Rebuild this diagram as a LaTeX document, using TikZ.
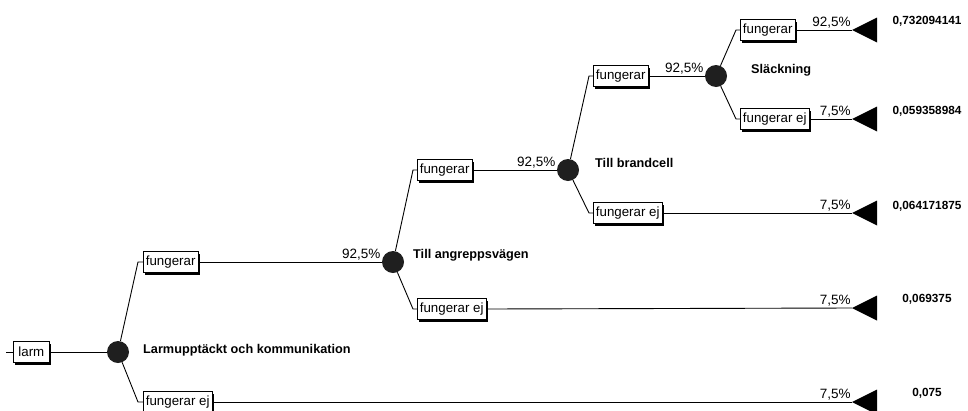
\documentclass[tikz,border=0pt]{standalone}
\usepackage{fontspec}
\setmainfont{Liberation Sans}
\usetikzlibrary{shadows}
\begin{document}
\begin{tikzpicture}[x=1pt,y=-1pt,
  conn/.style={line width=0.9pt},
  box/.style={draw, fill=white, line width=0.8pt, inner xsep=2.5pt, inner ysep=0pt,
    minimum height=21pt, font=\fontsize{13.3}{14}\selectfont, anchor=west,
    drop shadow={shadow xshift=2pt, shadow yshift=-2.6pt, fill=black, opacity=1}},
  chance/.style={circle, fill=black!88, minimum size=22pt, inner sep=0pt},
  pct/.style={font=\fontsize{13.5}{14}\selectfont, inner sep=1pt, anchor=south east},
  stage/.style={font=\bfseries\fontsize{12.7}{14}\selectfont, anchor=west, inner sep=0pt},
  val/.style={font=\bfseries\fontsize{11.8}{13}\selectfont, inner sep=0pt},
  term/.style={fill=black}
]
\useasboundingbox (0,0) rectangle (968,410);

% nodes
\coordinate (start) at (6,352);
\node[box, minimum width=36pt] (larm) at (13,352) {larm};
\node[chance] (c1) at (118,352) {};
\node[box] (b1u) at (143,262) {fungerar};
\node[box] (b1d) at (143,402) {fungerar ej};
\node[chance] (c2) at (393,262) {};
\node[box] (b2u) at (417,170) {fungerar};
\node[box] (b2d) at (417,309) {fungerar ej};
\node[chance] (c3) at (568,170) {};
\node[box] (b3u) at (593,76) {fungerar};
\node[box] (b3d) at (593,213) {fungerar ej};
\node[chance] (c4) at (716,76) {};
\node[box] (b4u) at (740,30) {fungerar};
\node[box] (b4d) at (740,119) {fungerar ej};

% terminal triangles
\coordinate (t1) at (852,30);
\coordinate (t2) at (852,119);
\coordinate (t3) at (852,213);
\coordinate (t4) at (852,308);
\coordinate (t5) at (852,402);
\foreach \t in {t1,t2,t3,t4,t5}{
  \fill[term] (\t) -- ++(25,-12.5) -- ++(0,25) -- cycle;
}

% stage labels
\node[stage] (s1) at (143,350) {Larmupptäckt och kommunikation};
\node[stage] (s2) at (413,255) {Till angreppsvägen};
\node[stage] (s3) at (595,163) {Till brandcell};
\node[stage] (s4) at (751,70) {Släckning};

% values
\node[val] (v1) at (927,21) {0,732094141};
\node[val] (v2) at (927,111) {0,059358984};
\node[val] (v3) at (927,206) {0,064171875};
\node[val] (v4) at (927,299) {0,069375};
\node[val] (v5) at (927,393) {0,075};

% connectors
\draw[conn] (start) -- (larm.west);
\draw[conn] (larm.east) -- (c1);
\draw[conn] (c1) -- ([xshift=-5pt]b1u.west) -- (b1u.west);
\draw[conn] (c1) -- ([xshift=-5pt]b1d.west) -- (b1d.west);
\draw[conn] (b1u.east) -- node[pct, pos=1] {92,5\%} (c2);
\draw[conn] (b1d.east) -- node[pct, pos=1] {7,5\%} (t5);

\draw[conn] (c2) -- ([xshift=-4pt]b2u.west) -- (b2u.west);
\draw[conn] (c2) -- ([xshift=-4pt]b2d.west) -- (b2d.west);
\draw[conn] (b2u.east) -- node[pct, pos=1] {92,5\%} (c3);
\draw[conn] (b2d.east) -- node[pct, pos=1] {7,5\%} (t4);

\draw[conn] (c3) -- ([xshift=-4pt]b3u.west) -- (b3u.west);
\draw[conn] (c3) -- ([xshift=-4pt]b3d.west) -- (b3d.west);
\draw[conn] (b3u.east) -- node[pct, pos=1] {92,5\%} (c4);
\draw[conn] (b3d.east) -- node[pct, pos=1] {7,5\%} (t3);

\draw[conn] (c4) -- ([xshift=-4pt]b4u.west) -- (b4u.west);
\draw[conn] (c4) -- ([xshift=-4pt]b4d.west) -- (b4d.west);
\draw[conn] (b4u.east) -- node[pct, pos=1] {92,5\%} (t1);
\draw[conn] (b4d.east) -- node[pct, pos=1] {7,5\%} (t2);
\end{tikzpicture}
\end{document}
